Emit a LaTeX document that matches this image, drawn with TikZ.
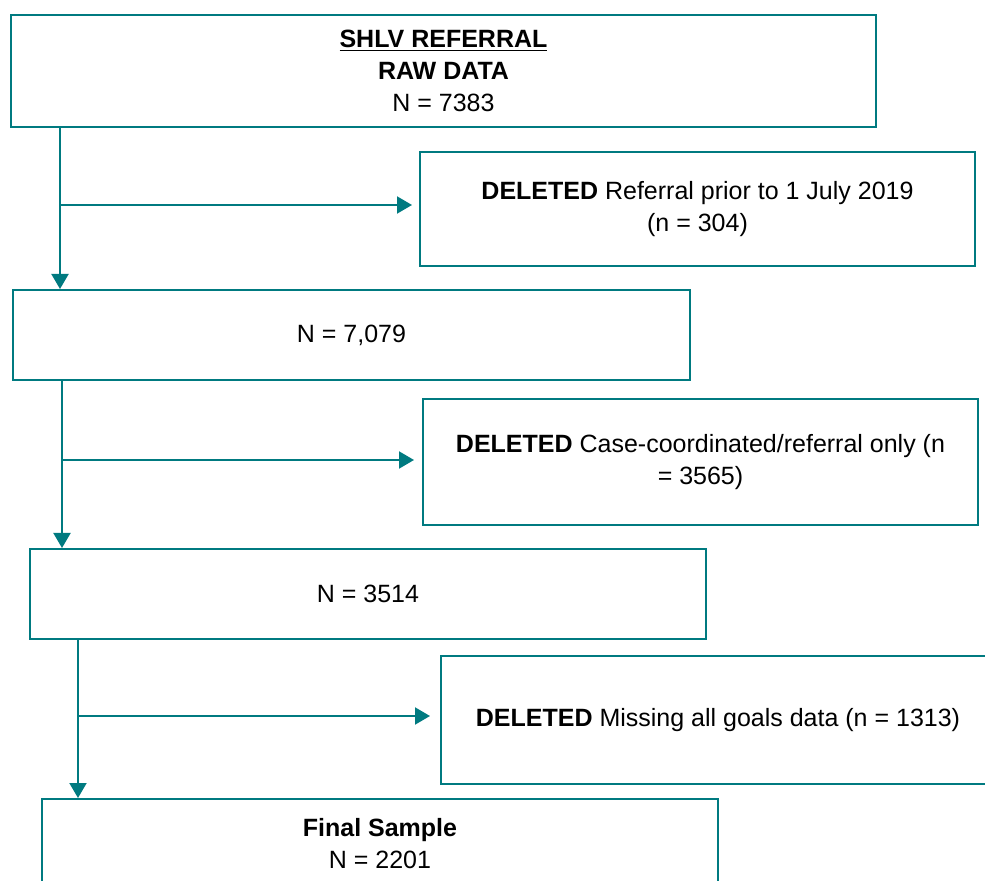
\documentclass[tikz,border=0pt]{standalone}
\usepackage{fontspec}
\setmainfont{Liberation Sans}
\usetikzlibrary{arrows.meta}
\definecolor{cTeal}{HTML}{007A80}

\begin{document}
\begin{tikzpicture}[x=0.5pt, y=-0.5pt, font=\fontsize{12.5pt}{16pt}\selectfont,
	box/.style={draw=cTeal, line width=1pt, align=center, inner sep=0pt},
	flow/.style={draw=cTeal, line width=1pt, -{Triangle[length=7.5pt, width=8.5pt]}}]
			\useasboundingbox (0,0) rectangle (985,881);
			\node [box, minimum width=432.5pt, minimum height=56pt] (raw) at (443.5,71) {\textbf{\underline{SHLV REFERRAL}}\\ \textbf{RAW DATA}\\ N = 7383};
			\node [box, minimum width=277.5pt, minimum height=57pt] (del1) at (697.5,209) {\textbf{DELETED} Referral prior to 1 July 2019\\ (n = 304)};
			\node [box, minimum width=338.5pt, minimum height=45pt] (n1) at (351.5,335) {N = 7,079};
			\node [box, minimum width=277.5pt, minimum height=63pt] (del2) at (700.5,462) {\textbf{DELETED} Case-coordinated/referral only (n\\ = 3565)};
			\node [box, minimum width=338pt, minimum height=45pt] (n2) at (368,594) {N = 3514};
			\node [box, minimum width=277pt, minimum height=64pt] (del3) at (718,720) {\textbf{DELETED} Missing all goals data (n = 1313)};
			\node [box, minimum width=338pt, minimum height=45pt] (final) at (380,844) {\textbf{Final Sample}\\ N = 2201};
			% branch points
			\coordinate (j1) at (60,205);
			\coordinate (j2) at (62,460);
			\coordinate (j3) at (78,716);
			\draw [flow] (raw.south -| j1) -- (n1.north -| j1);
			\draw [flow, shorten >=3.5pt] (j1) -- (del1.west |- j1);
			\draw [flow] (n1.south -| j2) -- (n2.north -| j2);
			\draw [flow, shorten >=4pt] (j2) -- (del2.west |- j2);
			\draw [flow] (n2.south -| j3) -- (final.north -| j3);
			\draw [flow, shorten >=5pt] (j3) -- (del3.west |- j3);
		\end{tikzpicture}
\end{document}
